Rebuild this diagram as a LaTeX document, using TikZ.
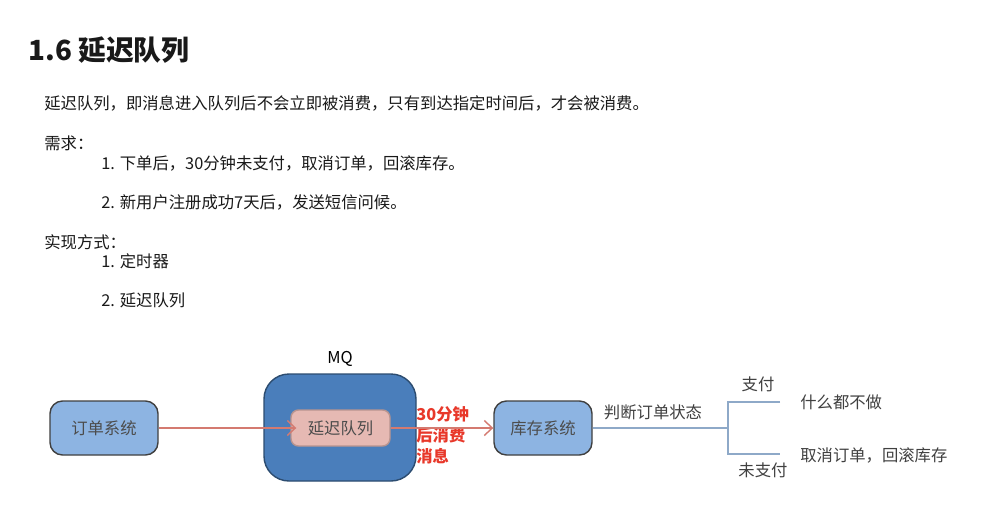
\documentclass[tikz,border=0pt]{standalone}
\usepackage{fontspec}
\setmainfont{Noto Sans CJK SC}
\usetikzlibrary{positioning,calc,arrows.meta}
\definecolor{COLOR1}{HTML}{8DB4E2}
\definecolor{COLOR2}{HTML}{4A7EBB}
\definecolor{COLOR3}{HTML}{E6B9B3}
\definecolor{COLOR4}{HTML}{D47A70}
\definecolor{COLOR5}{HTML}{8EA9C8}
\definecolor{COLOR6}{HTML}{E8382A}
\tikzset{
    T/.style={anchor=west,inner sep=0pt,font=\fontsize{9.3}{11}\selectfont,text=black!90},
    B/.style={draw=black!75,fill=COLOR1,rounded corners=2.5mm,line width=0.8pt,
        text=black!70,font=\fontsize{9.3}{11}\selectfont},
    A/.style={COLOR4,line width=0.8pt,-{Straight Barb[length=1.6mm,width=3mm]}},
    L/.style={COLOR5,line width=0.8pt}
}
\begin{document}
\begin{tikzpicture}[x=0.02cm,y=-0.02cm]
        \useasboundingbox[fill=white] (0,0) rectangle (992,512);
        % title and text
        \node[T,font=\fontsize{15.8}{18}\selectfont\bfseries] (TI) at (28,50) {1.6 延迟队列};
        \node[T] (P0) at (44,103) {延迟队列，即消息进入队列后不会立即被消费，只有到达指定时间后，才会被消费。};
        \node[T] (R0) at (44,143) {需求：};
        \node[T] (R1) at (101,163) {1. 下单后，30分钟未支付，取消订单，回滚库存。};
        \node[T] (R2) at (101,202) {2. 新用户注册成功7天后，发送短信问候。};
        \node[T] (W0) at (44,242) {实现方式：};
        \node[T] (W1) at (101,261) {1. 定时器};
        \node[T] (W2) at (101,300) {2. 延迟队列};

        % diagram
        \node[B,minimum width=108*0.02cm,minimum height=54*0.02cm] (OS) at (104,428) {订单系统};
        \node[B,fill=COLOR2,draw=COLOR2!60!black,rounded corners=5mm,
            minimum width=152*0.02cm,minimum height=107*0.02cm] (MQ) at (340,427.5) {};
        \node[above=0.02cm of MQ,font=\fontsize{9.3}{11}\selectfont] (MQL) {MQ};
        \node[B,fill=COLOR3,draw=COLOR3!80!black,rounded corners=1.5mm,
            minimum width=99*0.02cm,minimum height=36*0.02cm] (DQ) at (340.5,428) {延迟队列};
        \node[B,minimum width=98*0.02cm,minimum height=54*0.02cm] (SS) at (543,428) {库存系统};
        \node[T,text=COLOR6,font=\fontsize{9.3}{12}\selectfont\bfseries,align=left,anchor=north west]
            (TM) at (416,406) {30分钟\\后消费\\消息};

        \draw[A](OS)--($(DQ.west)+(6,0)$);
        \draw[A](DQ)--(SS);

        \coordinate (FK) at (728,428);
        \coordinate (P1) at (780,402);
        \coordinate (P2) at (780,454);
        \draw[L](SS)--(FK);
        \draw[L](P1)-|(FK)|-(P2);
        \node[T,anchor=center,text=black!75] (JU) at (653,412) {判断订单状态};
        \node[T,anchor=center,text=black!75] (YS) at (758,384) {支付};
        \node[T,anchor=center,text=black!75] (NO) at (763,470) {未支付};
        \node[T,text=black!75] (NA) at (800,402) {什么都不做};
        \node[T,text=black!75] (CA) at (800,455) {取消订单，回滚库存};
    \end{tikzpicture}
\end{document}
